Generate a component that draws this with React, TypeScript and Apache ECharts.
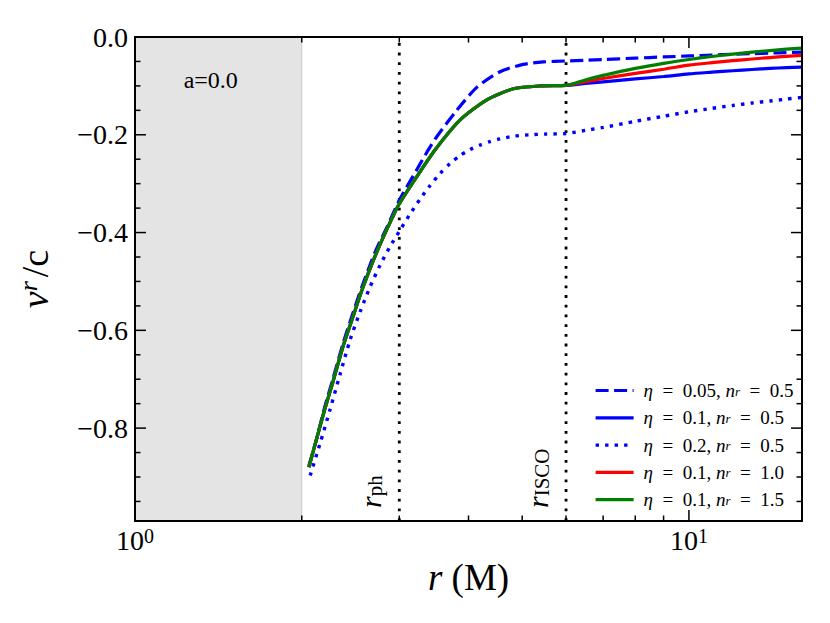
import React, { useEffect, useRef } from 'react';
import * as echarts from 'echarts';

const FONT = 'Liberation Serif';

// ---- axes extents ----
const rMin = 1;
const rMax = 16;
const vMin = -0.99;
const vMax = 0;

// ---- reference radii ----
const shadedSpan = [1, 2];
const markerRadii = [3, 6];
const markerSubs = ['ph', 'ISCO'];

// ---- ticks ----
const xMajorTicks = [1, 10];
const xMajorExponents = ['0', '1'];
const xMinorTicks = [2, 3, 4, 5, 6, 7, 8, 9];
const yMajorTicks = [-0.8, -0.6, -0.4, -0.2, 0.0];
const yMinorTicks = [-0.95, -0.9, -0.85, -0.75, -0.7, -0.65, -0.55, -0.5, -0.45, -0.35, -0.3, -0.25, -0.15, -0.1, -0.05];

// ---- series labels ----
const etaLabels = ['0.05', '0.1', '0.2', '0.1', '0.1'];
const nrLabels = ['0.5', '0.5', '0.5', '1.0', '1.5'];
const seriesNames = etaLabels.map((e, i) => `η = ${e}, n_r = ${nrLabels[i]}`);

// ---- plunging region (inside ISCO) ----
const rInnerEta005 = [2.06, 2.13, 2.2, 2.28, 2.37, 2.46, 2.57, 2.68, 2.73, 2.85, 3.0, 3.22, 3.38, 3.5, 3.81, 4.14, 4.56, 5.02, 5.46];
const vInnerEta005 = [-0.877, -0.82, -0.757, -0.697, -0.63, -0.573, -0.51, -0.455, -0.433, -0.389, -0.334, -0.273, -0.232, -0.205, -0.15, -0.103, -0.071, -0.056, -0.051];

const rInnerEta01 = [2.06, 2.13, 2.2, 2.28, 2.37, 2.46, 2.57, 2.68, 2.79, 2.91, 3.0, 3.22, 3.48, 3.86, 4.31, 4.82, 5.4];
const vInnerEta01 = [-0.88, -0.82, -0.762, -0.703, -0.636, -0.581, -0.517, -0.463, -0.416, -0.371, -0.341, -0.287, -0.231, -0.17, -0.129, -0.106, -0.1];

const rInnerEta02 = [2.071, 2.158, 2.25, 2.345, 2.445, 2.549, 2.657, 2.769, 2.886, 3.009, 3.136, 3.269, 3.408, 3.552, 3.703, 3.86, 4.024, 4.194, 4.372, 4.557, 4.851, 5.162, 5.494];
const vInnerEta02 = [-0.897, -0.8315, -0.7618, -0.6902, -0.6195, -0.5622, -0.511, -0.4669, -0.429, -0.3952, -0.3625, -0.3318, -0.3041, -0.2795, -0.2591, -0.2427, -0.2304, -0.2212, -0.214, -0.2085, -0.2025, -0.2001, -0.1986];

// ---- outside ISCO ----
const rOuter = [6, 6.5, 7, 8, 9, 10, 11, 12, 13, 14, 15, 16];
const vOuterEta005 = [-0.049, -0.0475, -0.046, -0.0432, -0.0408, -0.0388, -0.037, -0.0354, -0.0341, -0.0329, -0.0318, -0.0308];
const vOuterEta01n05 = [-0.099, -0.0951, -0.0917, -0.0858, -0.0808, -0.0755, -0.072, -0.069, -0.0665, -0.0643, -0.0625, -0.0615];
const vOuterEta02 = [-0.1974, -0.191, -0.185, -0.1725, -0.162, -0.153, -0.146, -0.14, -0.135, -0.131, -0.127, -0.1235];
const vOuterEta01n10 = [-0.099, -0.0914, -0.0849, -0.0743, -0.066, -0.0575, -0.0525, -0.0485, -0.045, -0.042, -0.0395, -0.0375];
const vOuterEta01n15 = [-0.099, -0.0878, -0.0786, -0.0643, -0.0539, -0.046, -0.0399, -0.035, -0.031, -0.0277, -0.0249, -0.0229];

// ---- styles ----
const seriesColors = ['#0000ff', '#0000ff', '#0000ff', '#ff0000', '#008000'];
const DASHED = [13, 5.5];
const DOTTED = [3.4, 6.1];
const seriesLineTypes: any[] = [DASHED, 'solid', DOTTED, 'solid', 'solid'];
const seriesWidths = [3.2, 3.2, 3.4, 3.2, 3.2];

const zip = (rs: number[], vs: number[]) => rs.map((r, i) => [r, vs[i]]);

const seriesData = [
  zip(rInnerEta005, vInnerEta005).concat(zip(rOuter, vOuterEta005)),
  zip(rInnerEta01, vInnerEta01).concat(zip(rOuter, vOuterEta01n05)),
  zip(rInnerEta02, vInnerEta02).concat(zip(rOuter, vOuterEta02)),
  zip(rInnerEta01, vInnerEta01).concat(zip(rOuter, vOuterEta01n10)),
  zip(rInnerEta01, vInnerEta01).concat(zip(rOuter, vOuterEta01n15)),
];

const EN = '\u2002';

function buildOption(): any {
  const lineSeries = seriesNames.map((name, i) => ({
    type: 'line',
    name,
    data: seriesData[i],
    symbol: 'none',
    showSymbol: false,
    smooth: 0.25,
    clip: true,
    z: 3,
    lineStyle: { color: seriesColors[i], width: seriesWidths[i], type: seriesLineTypes[i] },
    itemStyle: { color: seriesColors[i] },
  }));

  const regionSeries = {
    type: 'custom',
    name: 'region',
    silent: true,
    z: 1,
    data: [[shadedSpan[0], shadedSpan[1]]],
    renderItem: (params: any, api: any) => {
      const a = api.coord([api.value(0), vMax]);
      const b = api.coord([api.value(1), vMin]);
      const t = api.coord([1.37, -0.087]);
      return {
        type: 'group',
        children: [
          { type: 'rect', shape: { x: a[0], y: a[1], width: b[0] - a[0], height: b[1] - a[1] }, style: { fill: '#e4e4e4' } },
          { type: 'line', shape: { x1: b[0], y1: a[1], x2: b[0], y2: b[1] }, style: { stroke: '#c8c8c8', lineWidth: 1 } },
          {
            type: 'text', x: t[0], y: t[1],
            style: { text: 'a=0.0', fontSize: 24, fontFamily: FONT, fill: '#000', align: 'center', verticalAlign: 'middle' },
          },
        ],
      };
    },
  };

  const markerSeries = {
    type: 'custom',
    name: 'markers',
    silent: true,
    z: 2,
    data: markerRadii.map((r) => [r, vMin]),
    renderItem: (params: any, api: any) => {
      const r = api.value(0);
      const top = api.coord([r, vMax]);
      const bot = api.coord([r, vMin]);
      const sub = markerSubs[params.dataIndex];
      return {
        type: 'group',
        children: [
          {
            type: 'line',
            shape: { x1: bot[0], y1: bot[1], x2: top[0], y2: top[1] },
            style: { stroke: '#000', lineWidth: 2.8, lineDash: [2.8, 6.9] },
          },
          {
            type: 'text',
            x: bot[0] - 14,
            y: bot[1] - 13,
            rotation: Math.PI / 2,
            style: {
              text: `{i|r}{sub|${sub}}`,
              align: 'left',
              verticalAlign: 'bottom',
              fontFamily: FONT,
              fontSize: 30,
              fill: '#000',
              rich: {
                i: { fontStyle: 'italic', fontSize: 30, fontFamily: FONT, lineHeight: 30, fill: '#000' },
                sub: { fontSize: 21, fontFamily: FONT, lineHeight: 16, verticalAlign: 'bottom', fill: '#000' },
              },
            },
          },
        ],
      };
    },
  };

  const frameSeries = {
    type: 'custom',
    name: 'frame',
    silent: true,
    z: 10,
    data: [[rMin, vMax]],
    renderItem: (params: any, api: any) => {
      const a = api.coord([rMin, vMax]);
      const b = api.coord([rMax, vMin]);
      return {
        type: 'rect',
        shape: { x: a[0], y: a[1], width: b[0] - a[0], height: b[1] - a[1] },
        style: { fill: 'none', stroke: '#000', lineWidth: 2 },
      };
    },
  };

  const xTickSeries = {
    type: 'custom',
    name: 'xticks',
    silent: true,
    z: 10,
    data: [...xMajorTicks.map((x) => [x, vMin, 1]), ...xMinorTicks.map((x) => [x, vMin, 0])],
    renderItem: (params: any, api: any) => {
      const x = api.value(0);
      const len = api.value(2) === 1 ? 11 : 5.5;
      const b = api.coord([x, vMin]);
      const t = api.coord([x, vMax]);
      const st = { stroke: '#000', lineWidth: 1.5 };
      return {
        type: 'group',
        children: [
          { type: 'line', shape: { x1: b[0], y1: b[1], x2: b[0], y2: b[1] - len }, style: st },
          { type: 'line', shape: { x1: t[0], y1: t[1], x2: t[0], y2: t[1] + len }, style: st },
        ],
      };
    },
  };

  const yTickSeries = {
    type: 'custom',
    name: 'yticks',
    silent: true,
    z: 10,
    data: [...yMajorTicks.map((v) => [rMin, v, 1]), ...yMinorTicks.map((v) => [rMin, v, 0])],
    renderItem: (params: any, api: any) => {
      const v = api.value(1);
      const len = api.value(2) === 1 ? 11 : 5.5;
      const l = api.coord([rMin, v]);
      const r = api.coord([rMax, v]);
      const st = { stroke: '#000', lineWidth: 1.5 };
      return {
        type: 'group',
        children: [
          { type: 'line', shape: { x1: l[0], y1: l[1], x2: l[0] + len, y2: l[1] }, style: st },
          { type: 'line', shape: { x1: r[0], y1: r[1], x2: r[0] - len, y2: r[1] }, style: st },
        ],
      };
    },
  };

  return {
    animation: false,
    backgroundColor: '#ffffff',
    grid: { left: 135, top: 37, width: 667, height: 484, show: false },
    legend: {
      data: seriesNames,
      orient: 'vertical',
      left: 594,
      top: 381,
      padding: 0,
      itemWidth: 38,
      itemHeight: 14,
      itemGap: 8.3,
      selectedMode: false,
      itemStyle: { opacity: 0 },
      lineStyle: { width: 3.2 },
      formatter: (name: string) => {
        const i = seriesNames.indexOf(name);
        return `{i|η}${EN}=${EN}${etaLabels[i]}, {i|n}{sub|r}${EN}=${EN}${nrLabels[i]}`;
      },
      textStyle: {
        fontFamily: FONT,
        fontSize: 19,
        color: '#000',
        lineHeight: 14,
        padding: [0, 0, 0, 5],
        rich: {
          i: { fontStyle: 'italic', fontFamily: FONT, fontSize: 19, lineHeight: 14, color: '#000' },
          sub: { fontStyle: 'italic', fontFamily: FONT, fontSize: 13, lineHeight: 8, verticalAlign: 'bottom', color: '#000' },
        },
      },
    },
    xAxis: {
      type: 'log',
      logBase: 10,
      min: rMin,
      max: rMax,
      axisLine: { show: false },
      axisTick: { show: false },
      splitLine: { show: false },
      minorTick: { show: false },
      axisLabel: {
        showMaxLabel: false,
        showMinLabel: true,
        margin: 5,
        formatter: (v: number) => {
          const i = xMajorTicks.findIndex((t) => Math.abs(Math.log10(t) - Math.log10(v)) < 1e-6);
          return i >= 0 ? `{b|10}{s|${xMajorExponents[i]}}` : '';
        },
        rich: {
          b: { fontFamily: FONT, fontSize: 28, lineHeight: 28, color: '#000' },
          s: { fontFamily: FONT, fontSize: 20, lineHeight: 14, verticalAlign: 'top', color: '#000' },
        },
      },
      name: '{i|r} (M)',
      nameLocation: 'middle',
      nameGap: 37,
      nameTextStyle: {
        fontFamily: FONT,
        fontSize: 37,
        lineHeight: 38,
        color: '#000',
        rich: { i: { fontStyle: 'italic', fontFamily: FONT, fontSize: 37, lineHeight: 38, color: '#000' } },
      },
    },
    yAxis: {
      type: 'value',
      min: vMin,
      max: vMax,
      splitNumber: 5,
      axisLine: { show: false },
      axisTick: { show: false },
      splitLine: { show: false },
      axisLabel: {
        showMinLabel: false,
        fontFamily: FONT,
        fontSize: 28,
        color: '#000',
        margin: 7,
        formatter: (v: number) => (Math.abs(v) < 1e-9 ? '0.0' : '\u2212' + Math.abs(v).toFixed(1)),
      },
      name: '{i|v}{sup|r}{n|/c}',
      nameLocation: 'middle',
      nameRotate: 90,
      nameGap: 80,
      nameTextStyle: {
        fontFamily: FONT,
        fontSize: 38,
        lineHeight: 40,
        color: '#000',
        rich: {
          i: { fontStyle: 'italic', fontFamily: FONT, fontSize: 38, lineHeight: 40, color: '#000' },
          sup: { fontStyle: 'italic', fontFamily: FONT, fontSize: 26, lineHeight: 24, verticalAlign: 'top', color: '#000', padding: [0, 4, 0, 0] },
          n: { fontFamily: FONT, fontSize: 38, lineHeight: 40, color: '#000' },
        },
      },
    },
    series: [regionSeries, markerSeries, ...lineSeries, frameSeries, xTickSeries, yTickSeries],
  };
}

export default function App() {
  const ref = useRef<HTMLDivElement>(null);
  useEffect(() => {
    if (!ref.current) return;
    const chart = echarts.init(ref.current, undefined, { renderer: 'svg' });
    chart.setOption(buildOption());
    return () => chart.dispose();
  }, []);
  return (
    <div
      ref={ref}
      style={{ position: 'absolute', left: 0, top: 0, width: 830, height: 623, background: '#fff' }}
    />
  );
}
